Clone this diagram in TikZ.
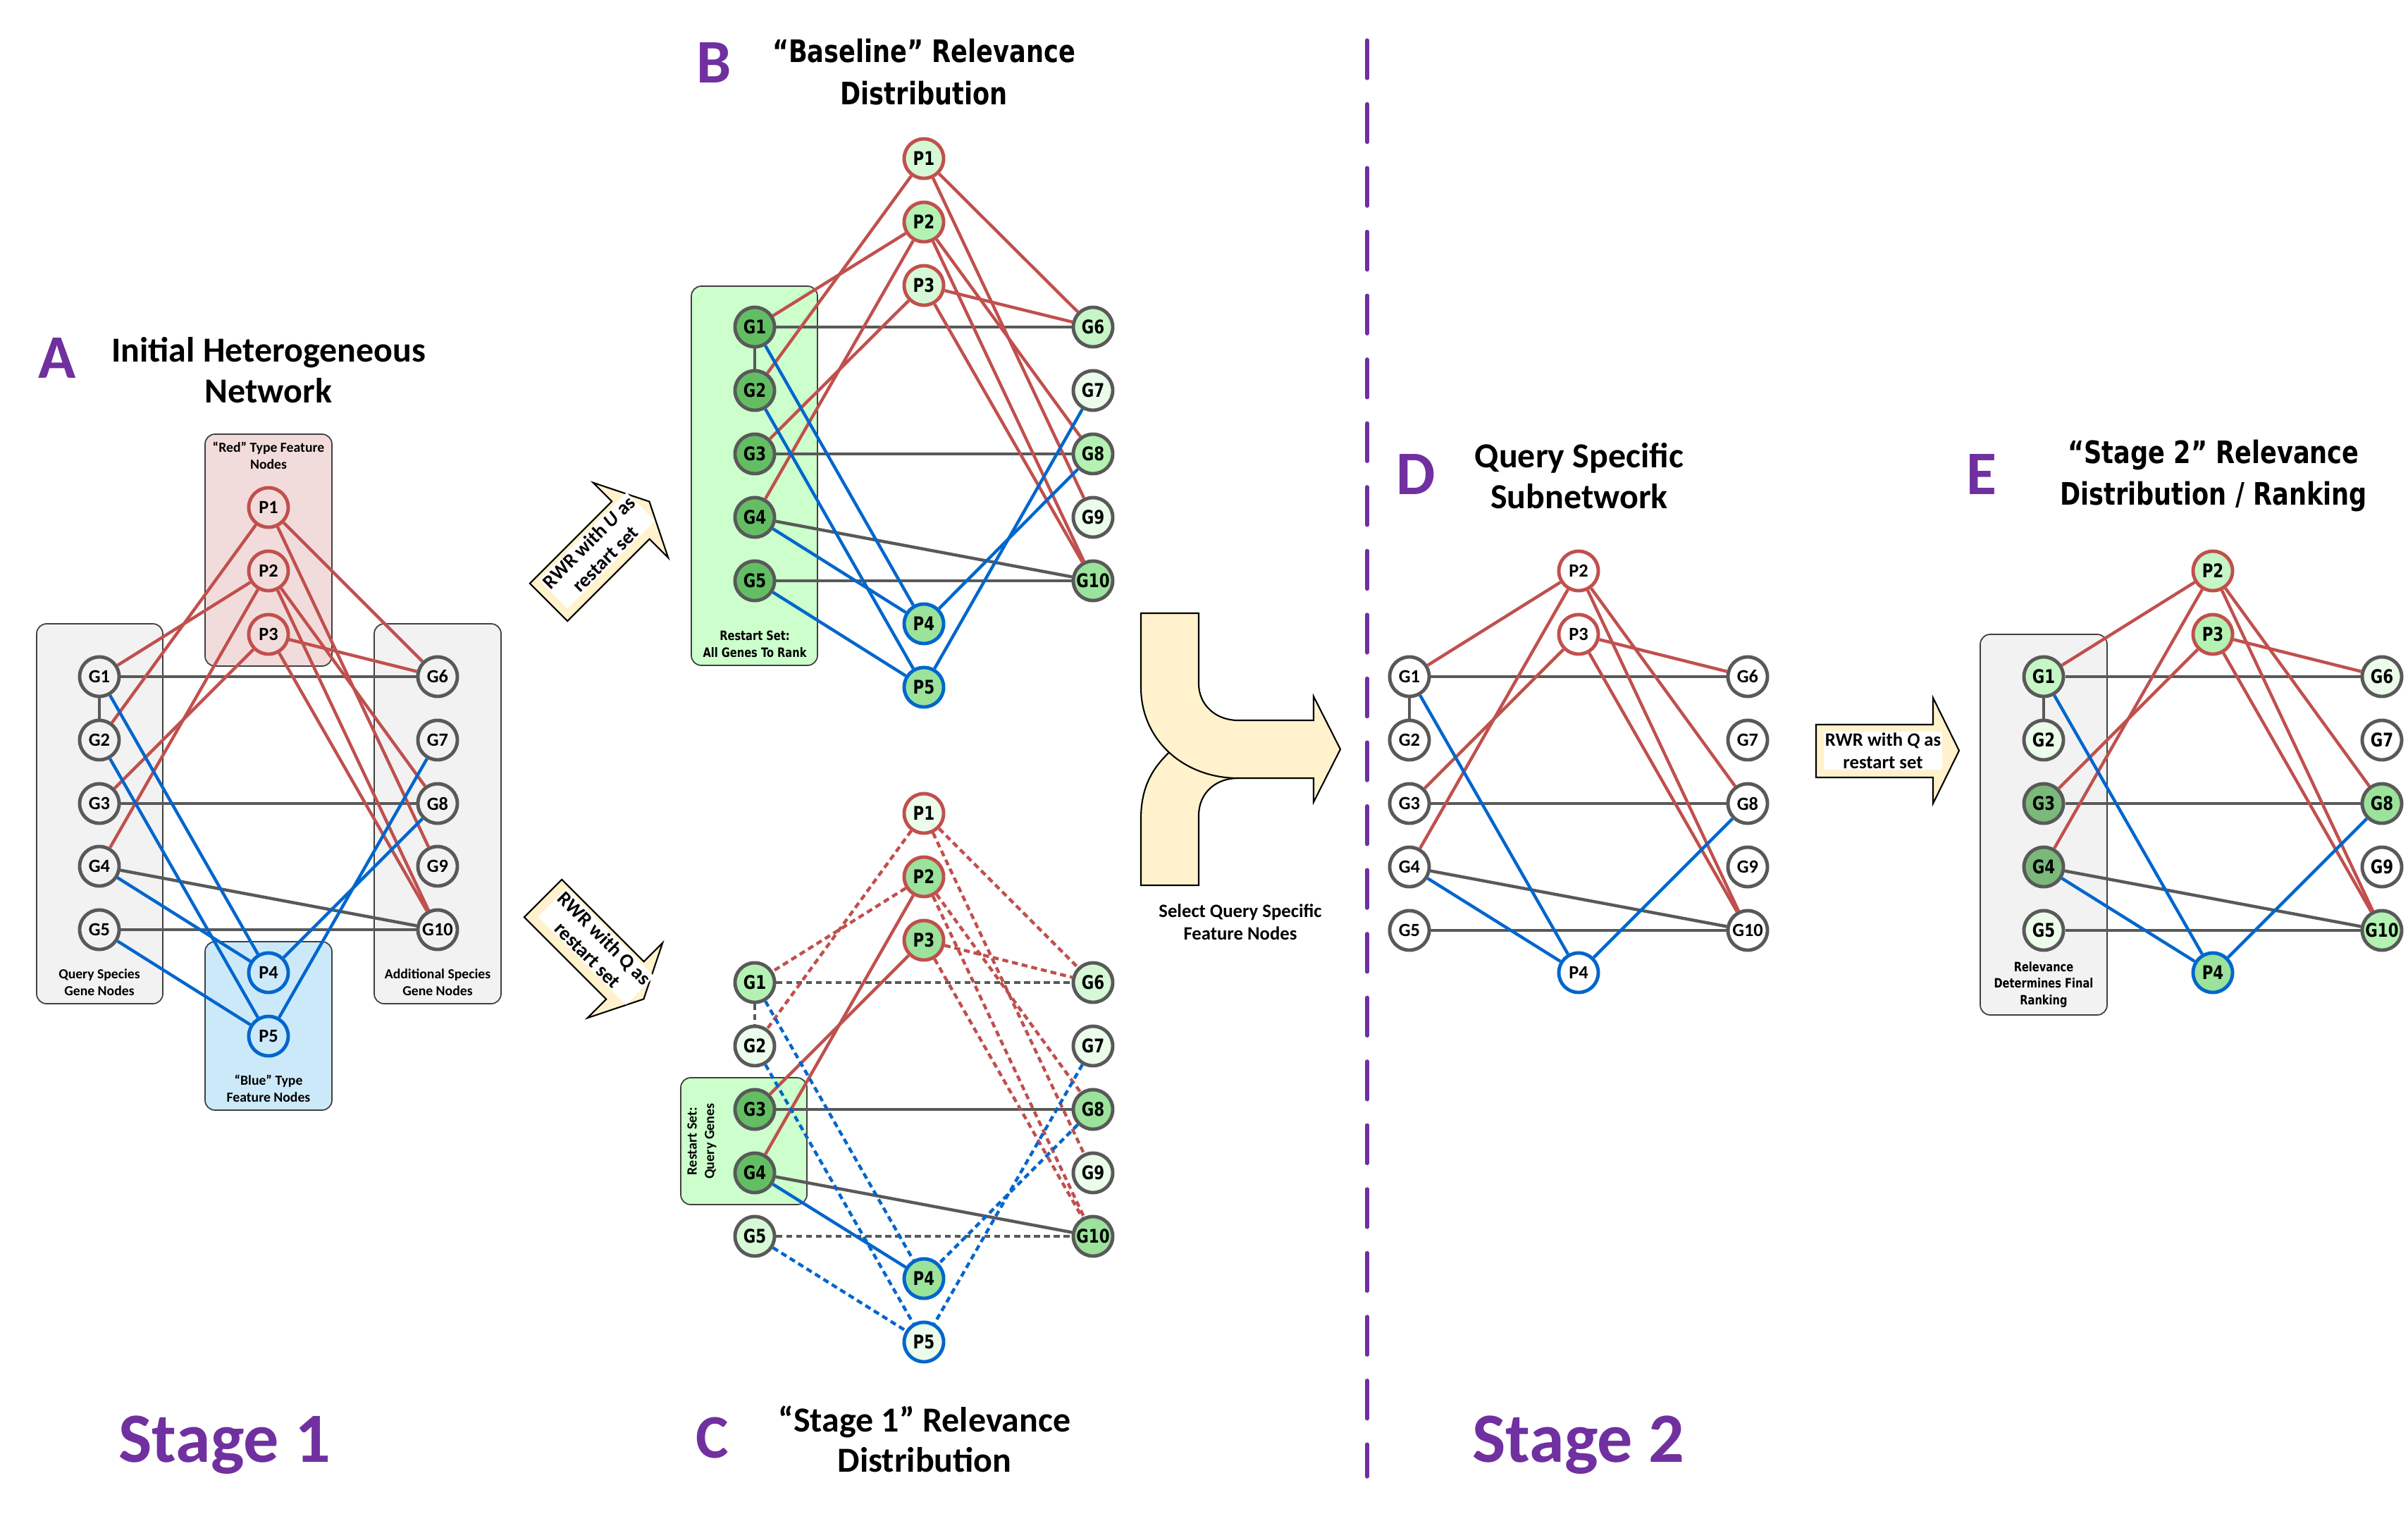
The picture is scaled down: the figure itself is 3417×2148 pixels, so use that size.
\documentclass[tikz,border=0pt]{standalone}
\usepackage{fontspec}
\setmainfont{Carlito}
\newfontfamily\vernarrow{DejaVu Sans}[FakeStretch=0.8]
\usetikzlibrary{calc}

\definecolor{redline}{HTML}{C0504D}
\definecolor{blueline}{HTML}{0066CC}
\definecolor{greyline}{HTML}{595959}
\definecolor{stagepurple}{HTML}{7030A0}
\definecolor{arrowfill}{HTML}{FFF2CC}
\definecolor{zonegrey}{HTML}{F2F2F2}
\definecolor{zonered}{HTML}{F2DCDB}
\definecolor{zoneblue}{HTML}{CCE9FA}
\definecolor{zonegreen}{HTML}{CCFFCC}
\definecolor{gw}{HTML}{EBFCEB}
\definecolor{gl}{HTML}{C6F5C6}
\definecolor{gl2}{HTML}{D6F8D6}
\definecolor{gl3}{HTML}{B3F2B3}
\definecolor{gm}{HTML}{9BE29B}
\definecolor{gd}{HTML}{63BE63}
\definecolor{ge}{HTML}{7AB97A}

\begin{document}
\begin{tikzpicture}[
        x=0.01cm, y=-0.01cm,
        gnode/.style={circle, draw=greyline, line width=1.4pt, minimum size=0.56cm, inner sep=0pt},
        rnode/.style={gnode, draw=redline},
        bnode/.style={gnode, draw=blueline},
        calnum/.style={font=\bfseries\fontsize{7.5}{8}\selectfont},
        vernum/.style={font=\vernarrow\bfseries\fontsize{7.6}{8}\selectfont},
        gedge/.style={draw=greyline, line width=1.25pt},
        redge/.style={draw=redline, line width=1.25pt},
        bedge/.style={draw=blueline, line width=1.25pt},
        faint/.style={dash pattern=on 2.4pt off 1.6pt},
        zone/.style={draw=black!75, line width=0.5pt, rounded corners=4pt},
        zonetag/.style={align=center, font=\bfseries\fontsize{5.6}{6.8}\selectfont},
        vertag/.style={align=center, font=\vernarrow\bfseries\fontsize{5.2}{6.8}\selectfont},
        panel/.style={font=\bfseries\fontsize{25}{25}\selectfont, text=stagepurple},
        caltitle/.style={align=center, font=\bfseries\fontsize{14.2}{16.3}\selectfont},
        vertitle/.style={align=center, font=\vernarrow\bfseries\fontsize{12.5}{17}\selectfont},
        stagetag/.style={font=\bfseries\fontsize{28.5}{28}\selectfont, text=stagepurple, anchor=base},
        rwr/.style={draw=black, line width=0.6pt, fill=arrowfill, line join=miter},
        rwrtag/.style={align=center, fill=white, inner sep=0.5pt, font=\bfseries\fontsize{8}{9.5}\selectfont}
      ]

      \fill[white] (0,0) rectangle (3417,2148);
      \useasboundingbox (0,0) rectangle (3417,2148);

      % zones
      \draw[zone, fill=zonegrey] (52,885) rectangle (231,1424);
      \draw[zone, fill=zonegrey] (531,885) rectangle (711,1424);
      \draw[zone, fill=zonered] (291,616) rectangle (471,945);
      \draw[zone, fill=zoneblue] (291,1336) rectangle (471,1575);
      \draw[zone, fill=zonegreen] (981,406) rectangle (1160,944);
      \draw[zone, fill=zonegreen] (966,1529) rectangle (1145,1709);
      \draw[zone, fill=zonegrey] (2810,900) rectangle (2990,1440);

      \node[zonetag] (RedTag) at (381,646) {“Red” Type Feature\\Nodes};
      \node[zonetag] (QueryTag) at (141,1394) {Query Species\\Gene Nodes};
      \node[zonetag] (AddTag) at (621,1394) {Additional Species\\Gene Nodes};
      \node[zonetag] (BlueTag) at (381,1544) {“Blue” Type\\Feature Nodes};
      \node[vertag] (AllTag) at (1071,914) {Restart Set:\\All Genes To Rank};
      \node[align=center, rotate=90, font=\bfseries\fontsize{5.7}{7}\selectfont] (QTag) at (996,1619) {Restart Set:\\Query Genes};
      \node[vertag] (RankTag) at (2900,1397) {Relevance\\Determines Final\\Ranking};

      % panel A
      \foreach \n/\y in {1/960,2/1050,3/1140,4/1229,5/1319}
        \node[gnode, calnum, fill=zonegrey] (aG\n) at (141,\y) {G\n};
      \foreach \n/\y in {6/960,7/1050,8/1140,9/1229,10/1319}
        \node[gnode, calnum, fill=zonegrey] (aG\n) at (621,\y) {G\n};
      \foreach \n/\y in {1/720,2/810,3/900}
        \node[rnode, calnum, fill=zonered] (aP\n) at (381,\y) {P\n};
      \foreach \n/\y in {4/1380,5/1470}
        \node[bnode, calnum, fill=zoneblue] (aP\n) at (381,\y) {P\n};

      % panel B
      \foreach \n/\y/\c in {1/464/gd,2/554/gd,3/644/gd,4/734/gd,5/824/gd}
        \node[gnode, vernum, fill=\c] (bG\n) at (1071,\y) {G\n};
      \foreach \n/\y/\c in {6/464/gl,7/554/gw,8/644/gl3,9/734/gw,10/824/gm}
        \node[gnode, vernum, fill=\c] (bG\n) at (1551,\y) {G\n};
      \foreach \n/\y/\c in {1/225/gl2,2/315/gl3,3/405/gl2}
        \node[rnode, vernum, fill=\c] (bP\n) at (1311,\y) {P\n};
      \foreach \n/\y/\c in {4/885/gm,5/975/gm}
        \node[bnode, vernum, fill=\c] (bP\n) at (1311,\y) {P\n};

      % panel C
      \foreach \n/\y/\c in {1/1394/gl3,2/1484/gw,3/1574/gd,4/1664/gd,5/1754/gl2}
        \node[gnode, vernum, fill=\c] (cG\n) at (1071,\y) {G\n};
      \foreach \n/\y/\c in {6/1394/gl2,7/1484/gw,8/1574/gm,9/1664/gw,10/1754/gm}
        \node[gnode, vernum, fill=\c] (cG\n) at (1551,\y) {G\n};
      \foreach \n/\y/\c in {1/1154/gw,2/1244/gm,3/1334/gm}
        \node[rnode, vernum, fill=\c] (cP\n) at (1311,\y) {P\n};
      \foreach \n/\y/\c in {4/1814/gm,5/1904/gw}
        \node[bnode, vernum, fill=\c] (cP\n) at (1311,\y) {P\n};

      % panel D
      \foreach \n/\y in {1/960,2/1050,3/1140,4/1230,5/1320}
        \node[gnode, calnum, fill=white] (dG\n) at (2000,\y) {G\n};
      \foreach \n/\y in {6/960,7/1050,8/1140,9/1230,10/1320}
        \node[gnode, calnum, fill=white] (dG\n) at (2480,\y) {G\n};
      \node[rnode, calnum, fill=white] (dP2) at (2240,810) {P2};
      \node[rnode, calnum, fill=white] (dP3) at (2240,900) {P3};
      \node[bnode, calnum, fill=white] (dP4) at (2240,1380) {P4};

      % panel E
      \foreach \n/\y/\c in {1/960/gl,2/1050/gw,3/1140/ge,4/1230/ge,5/1320/gw}
        \node[gnode, vernum, fill=\c] (eG\n) at (2900,\y) {G\n};
      \foreach \n/\y/\c in {6/960/gw,7/1050/white,8/1140/gm,9/1230/white,10/1320/gl3}
        \node[gnode, vernum, fill=\c] (eG\n) at (3380,\y) {G\n};
      \node[rnode, vernum, fill=gl] (eP2) at (3140,810) {P2};
      \node[rnode, vernum, fill=gl3] (eP3) at (3140,900) {P3};
      \node[bnode, vernum, fill=gm] (eP4) at (3140,1380) {P4};

      % edges
      \foreach \p in {a,b} {
        \foreach \u/\v in {G1/G2,G1/G6,G3/G8,G4/G10,G5/G10}
          \draw[gedge] (\p\u) -- (\p\v);
        \foreach \u/\v in {P1/G2,P1/G6,P1/G9,P2/G1,P2/G4,P2/G8,P2/G10,P3/G3,P3/G6,P3/G10}
          \draw[redge] (\p\u) -- (\p\v);
        \foreach \u/\v in {G1/P4,G2/P5,G4/P4,G5/P5,G7/P5,G8/P4}
          \draw[bedge] (\p\u) -- (\p\v);
      }

      \foreach \u/\v in {G3/G8,G4/G10}
        \draw[gedge] (c\u) -- (c\v);
      \foreach \u/\v in {G1/G2,G1/G6,G5/G10}
        \draw[gedge, faint] (c\u) -- (c\v);
      \foreach \u/\v in {P2/G4,P3/G3}
        \draw[redge] (c\u) -- (c\v);
      \foreach \u/\v in {P1/G2,P1/G6,P1/G9,P2/G1,P2/G8,P2/G10,P3/G6,P3/G10}
        \draw[redge, faint] (c\u) -- (c\v);
      \draw[bedge] (cG4) -- (cP4);
      \foreach \u/\v in {G1/P4,G2/P5,G5/P5,G7/P5,G8/P4}
        \draw[bedge, faint] (c\u) -- (c\v);

      \foreach \p in {d,e} {
        \foreach \u/\v in {G1/G2,G1/G6,G3/G8,G4/G10,G5/G10}
          \draw[gedge] (\p\u) -- (\p\v);
        \foreach \u/\v in {P2/G1,P2/G4,P2/G8,P2/G10,P3/G3,P3/G6,P3/G10}
          \draw[redge] (\p\u) -- (\p\v);
        \foreach \u/\v in {G1/P4,G4/P4,G8/P4}
          \draw[bedge] (\p\u) -- (\p\v);
      }

      % RWR arrows
      \begin{scope}[shift={(850,783)}, rotate=45]
        \draw[rwr] (-101,-37.7) -- (63.5,-37.7) -- (63.5,-75.4) -- (101,0) -- (63.5,75.4) -- (63.5,37.7) -- (-101,37.7) -- cycle;
      \end{scope}
      \node[rwrtag, rotate=45] (rwrU) at (847,781) {RWR with \textit{U} as\\restart set};

      \begin{scope}[shift={(842,1346)}, rotate=-45]
        \draw[rwr] (-101,-37.7) -- (63.5,-37.7) -- (63.5,-75.4) -- (101,0) -- (63.5,75.4) -- (63.5,37.7) -- (-101,37.7) -- cycle;
      \end{scope}
      \node[rwrtag, rotate=-45] (rwrQ) at (846,1343) {RWR with Q as\\restart set};

      \draw[rwr] (2577,1028) -- (2743,1028) -- (2743,990) -- (2780,1065) -- (2743,1140) -- (2743,1103) -- (2577,1103) -- cycle;
      \node[rwrtag, font=\bfseries\fontsize{7.6}{9}\selectfont] (rwrE) at (2672,1065) {RWR with \textit{Q} as\\restart set};

      % select arrow
      \draw[rwr] (1619,1256) -- (1619,1162) .. controls (1619,1110) and (1640,1080) .. (1680,1050) -- (1757,1050) -- (1757,1104) .. controls (1725,1104) and (1701,1125) .. (1701,1157) -- (1701,1256) -- cycle;
      \draw[rwr] (1619,870) -- (1701,870) -- (1701,970) .. controls (1701,1000) and (1725,1022) .. (1757,1022) -- (1864,1022) -- (1864,988) -- (1902,1063) -- (1864,1138) -- (1864,1104) -- (1757,1104) .. controls (1680,1104) and (1619,1050) .. (1619,975) -- cycle;
      \node[align=center, font=\bfseries\fontsize{7.6}{9}\selectfont] (SelTag) at (1760,1308) {Select Query Specific\\Feature Nodes};

      % stage divider
      \draw[stagepurple, line width=1.5pt, line cap=round, dash pattern=on 0.54cm off 0.365cm] (1940,57) -- (1940,2095);

      % titles
      \node[panel] (Atag) at (81,508) {A};
      \node[caltitle] (Atitle) at (381,525) {Initial Heterogeneous\\Network};
      \node[panel] (Btag) at (1013,89) {B};
      \node[vertitle] (Btitle) at (1311,102) {“Baseline” Relevance\\Distribution};
      \node[panel] (Ctag) at (1011,2040) {C};
      \node[caltitle] (Ctitle) at (1312,2042) {“Stage 1” Relevance\\Distribution};
      \node[panel] (Dtag) at (2009,673) {D};
      \node[caltitle] (Dtitle) at (2241,675) {Query Specific\\Subnetwork};
      \node[panel] (Etag) at (2812,673) {E};
      \node[vertitle] (Etitle) at (3141,675) {“Stage 2” Relevance\\Distribution / Ranking};
      \node[stagetag] (S1) at (319,2074) {Stage 1};
      \node[stagetag] (S2) at (2240,2074) {Stage 2};

    \end{tikzpicture}
\end{document}
